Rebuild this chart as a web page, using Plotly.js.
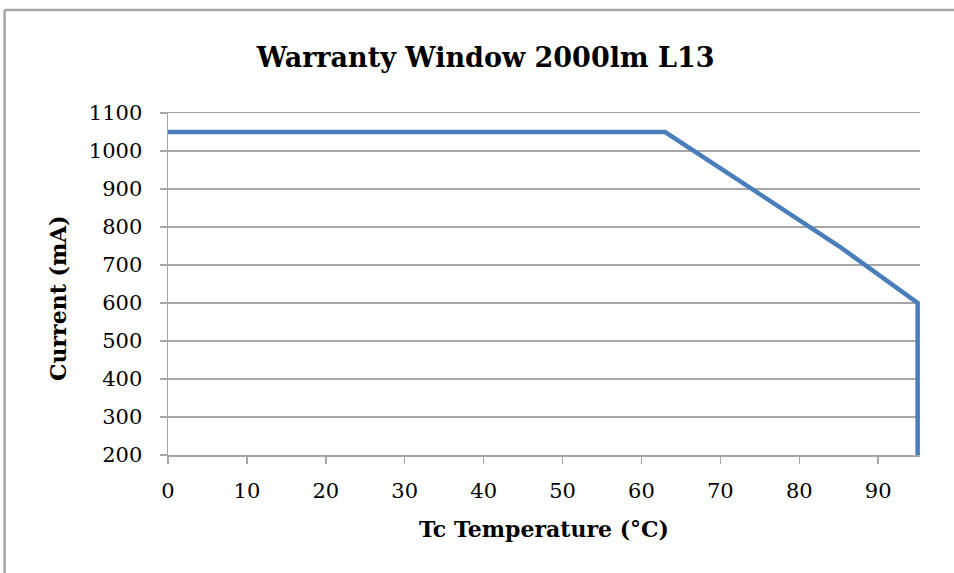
<!DOCTYPE html>
<html>
<head>
<meta charset="utf-8">
<script src="https://cdn.plot.ly/plotly-3.0.1.min.js"></script>
<style>
html,body{margin:0;padding:0;background:#fff;}
#chart{width:954px;height:573px;}
</style>
</head>
<body>
<div id="chart"></div>
<script>
const temperature = [0, 63, 85, 95, 95];
const currentMA = [1050, 1050, 750, 600, 200];
const xTicks = [0, 10, 20, 30, 40, 50, 60, 70, 80, 90];
const yTicks = [200, 300, 400, 500, 600, 700, 800, 900, 1000, 1100];

const serif = "'DejaVu Serif', 'Liberation Serif', serif";

const trace = {
  x: temperature,
  y: currentMA,
  type: 'scatter',
  mode: 'lines',
  line: {color: '#4a7ebb', width: 4.5},
  hoverinfo: 'skip'
};

const layout = {
  width: 954,
  height: 573,
  margin: {l: 168, r: 34, t: 113, b: 118},
  paper_bgcolor: '#ffffff',
  plot_bgcolor: '#ffffff',
  showlegend: false,
  title: {
    text: '<b>Warranty Window 2000lm L13</b>',
    font: {family: serif, size: 27, color: '#000'},
    x: 0.509, xref: 'container', xanchor: 'center',
    y: 1 - 58/573, yref: 'container', yanchor: 'middle'
  },
  xaxis: {
    range: [0, 95.3],
    tickvals: xTicks,
    ticktext: xTicks.map(String),
    ticks: 'outside', ticklen: 7, tickwidth: 1.5, tickcolor: '#a6a6a6',
    showline: true, linecolor: '#a6a6a6', linewidth: 1.5, mirror: true,
    showgrid: false, zeroline: false,
    tickfont: {family: serif, size: 21, color: '#000'},
    ticklabelstandoff: 9,
    title: {text: '<b>Tc Temperature (°C)</b>', font: {family: serif, size: 22, color: '#000'}, standoff: 20},
    fixedrange: true
  },
  yaxis: {
    range: [200, 1100],
    tickvals: yTicks,
    ticktext: yTicks.map(String),
    ticks: 'outside', ticklen: 7, tickwidth: 1.5, tickcolor: '#a6a6a6',
    showline: true, linecolor: '#a6a6a6', linewidth: 1.5,
    showgrid: true, gridcolor: '#a6a6a6', gridwidth: 1.5,
    zeroline: false,
    tickfont: {family: serif, size: 21, color: '#000'},
    ticklabelstandoff: 13,
    fixedrange: true
  },
  annotations: [
    {text: '<b>Current (mA)</b>', xref: 'paper', yref: 'paper', x: (58 - 168) / 752, y: (455 - 298) / 342,
     xanchor: 'center', yanchor: 'middle', textangle: -90, showarrow: false,
     font: {family: serif, size: 22, color: '#000'}}
  ],
  shapes: [
    {type: 'line', xref: 'paper', yref: 'paper', x0: -0.2173, x1: 1.06, y0: 1.3012, y1: 1.3012, line: {color: '#a6a6a6', width: 2.5}},
    {type: 'line', xref: 'paper', yref: 'paper', x0: -0.2173, x1: -0.2173, y0: 1.3012, y1: -0.35, line: {color: '#a6a6a6', width: 2.5}}
  ]
};

Plotly.newPlot('chart', [trace], layout, {staticPlot: true, displayModeBar: false});
</script>
</body>
</html>
